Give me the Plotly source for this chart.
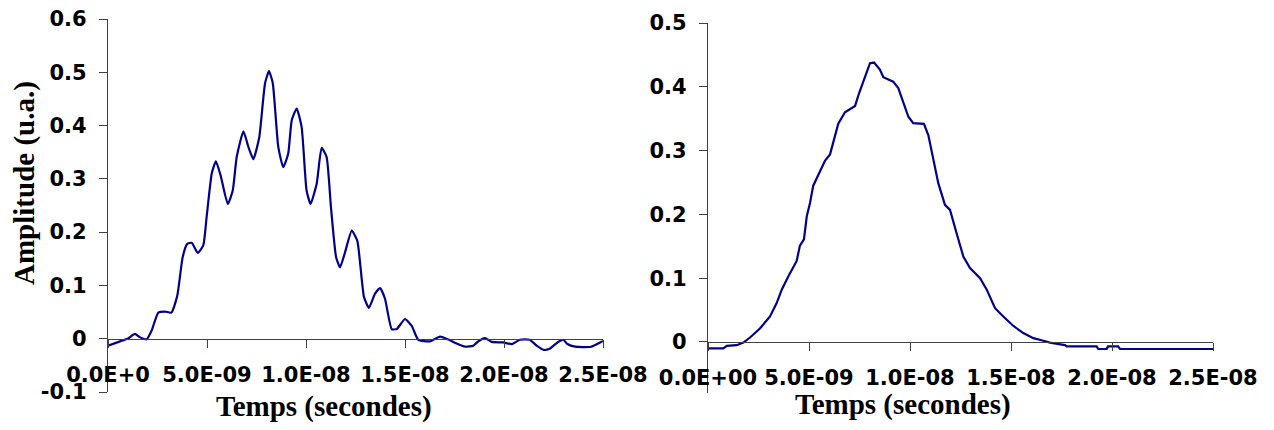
import plotly.graph_objects as go

# ---- data (time in ns, amplitude in u.a.) ----
left_t_ns = [0.0, 0.61, 1.03, 1.36, 1.6, 1.95, 2.2, 2.54, 2.88, 3.2, 3.5, 3.77, 4.0, 4.23, 4.53, 4.81,
             4.98, 5.24, 5.45, 5.69, 6.05, 6.3, 6.5, 6.84, 7.09, 7.34, 7.64, 7.93, 8.13, 8.32, 8.6, 8.85,
             9.1, 9.28, 9.53, 9.78, 10.03, 10.23, 10.54, 10.79, 11.04, 11.26, 11.52, 11.72, 11.97, 12.31,
             12.59, 12.93, 13.18, 13.48, 13.74, 13.99, 14.33, 14.58, 15.0, 15.34, 15.67, 16.26, 16.77,
             17.27, 17.6, 18.03, 18.45, 18.7, 19.04, 19.38, 19.96, 20.4, 20.8, 21.3, 21.65, 22.0, 22.3,
             22.7, 23.0, 23.2, 23.6, 24.4, 24.9, 25.0]
left_amp = [-0.013, -0.005, 0.001, 0.009, 0.003, -0.001, 0.015, 0.049, 0.051, 0.049, 0.081, 0.153, 0.178,
            0.180, 0.161, 0.175, 0.228, 0.31, 0.333, 0.306, 0.253, 0.278, 0.341, 0.389, 0.36, 0.337, 0.378,
            0.479, 0.502, 0.48, 0.36, 0.322, 0.347, 0.41, 0.432, 0.397, 0.278, 0.253, 0.291, 0.358, 0.341,
            0.247, 0.153, 0.134, 0.162, 0.203, 0.184, 0.078, 0.058, 0.084, 0.095, 0.075, 0.018, 0.018, 0.037,
            0.024, -0.002, -0.005, 0.004, -0.003, -0.009, -0.015, -0.013, -0.005, 0.001, -0.006, -0.007,
            -0.01, -0.002, -0.002, -0.013, -0.021, -0.019, -0.007, -0.002, -0.01, -0.015, -0.015, -0.006,
            -0.004]

right_t_ns = [0.0, 0.76, 0.93, 1.42, 1.75, 2.08, 2.57, 3.07, 3.4, 3.65, 3.98, 4.39, 4.55, 4.75, 4.89, 5.05,
              5.21, 5.46, 5.79, 6.04, 6.29, 6.45, 6.78, 7.28, 7.49, 7.72, 8.02, 8.22, 8.51, 8.68, 9.17, 9.42,
              9.67, 9.92, 10.16, 10.69, 10.91, 11.16, 11.4, 11.73, 11.98, 12.31, 12.64, 12.97, 13.47, 13.8,
              14.21, 14.62, 15.12, 15.61, 16.11, 16.6, 16.93, 17.67, 17.76, 19.24, 19.32, 19.74, 19.8, 20.3,
              20.4, 25.0]
right_amp = [-0.01, -0.01, -0.006, -0.005, -0.001, 0.007, 0.021, 0.04, 0.061, 0.082, 0.103, 0.127, 0.151,
             0.161, 0.197, 0.218, 0.245, 0.263, 0.284, 0.294, 0.321, 0.342, 0.36, 0.37, 0.391, 0.412, 0.437,
             0.438, 0.427, 0.415, 0.408, 0.398, 0.374, 0.353, 0.343, 0.342, 0.324, 0.285, 0.249, 0.215, 0.207,
             0.17, 0.134, 0.116, 0.1, 0.082, 0.053, 0.04, 0.025, 0.014, 0.006, 0.002, -0.001, -0.005, -0.007,
             -0.007, -0.011, -0.011, -0.007, -0.007, -0.011, -0.011]

x_tick_vals_ns = [0, 5, 10, 15, 20, 25]
left_x_ticktext = ["0.0E+0", "5.0E-09", "1.0E-08", "1.5E-08", "2.0E-08", "2.5E-08"]
right_x_ticktext = ["0.0E+00", "5.0E-09", "1.0E-08", "1.5E-08", "2.0E-08", "2.5E-08"]
left_y_ticks = [-0.1, 0, 0.1, 0.2, 0.3, 0.4, 0.5, 0.6]
left_y_ticktext = ["-0.1", "0", "0.1", "0.2", "0.3", "0.4", "0.5", "0.6"]
right_y_ticks = [0, 0.1, 0.2, 0.3, 0.4, 0.5]
right_y_ticktext = ["0", "0.1", "0.2", "0.3", "0.4", "0.5"]
x_title = "Temps (secondes)"
y_title = "Amplitude (u.a.)"

# ---- figure ----
W, H = 1274, 430
OFF = 8  # page body margin offset
NAVY = "#00008B"
AXC = "#404040"
tick_font = dict(family="DejaVu Sans", size=21, color="black", weight="bold")
title_font = dict(family="Liberation Serif", size=29, color="black", weight="bold")

def s(ns_list):
    return [v * 1e-9 for v in ns_list]

fig = go.Figure()
fig.add_trace(go.Scatter(x=s(left_t_ns), y=left_amp, mode="lines", xaxis="x", yaxis="y",
                         line=dict(color=NAVY, width=2.2, shape="spline", smoothing=0.5),
                         showlegend=False))
fig.add_trace(go.Scatter(x=s(right_t_ns), y=right_amp, mode="lines", xaxis="x2", yaxis="y2",
                         line=dict(color=NAVY, width=2.2), showlegend=False))

def px_x(p):
    return (p - OFF) / W

def px_y(p):
    return 1 - (p - OFF) / H

# plot geometry (pixels in the final picture)
L_x0, L_x1, L_yt, L_yb = 108, 603, 19, 392
R_x0, R_x1, R_yt, R_yb = 708, 1213, 23, 393
L_ymin, L_ymax = -0.1, 0.6
R_ymin, R_ymax = -0.08, 0.5

L_zero_px = L_yt + (L_ymax - 0) / (L_ymax - L_ymin) * (L_yb - L_yt)
R_zero_px = R_yt + (R_ymax - 0) / (R_ymax - R_ymin) * (R_yb - R_yt)

common_x = dict(range=[0, 2.5e-8], showgrid=False, zeroline=False, showline=True, linecolor=AXC,
                linewidth=1.3, ticks="outside", ticklen=8, tickcolor=AXC, tickwidth=1.3,
                tickfont=tick_font, anchor="free", ticklabelstandoff=9, automargin=False,
                ticklabeloverflow="allow")
common_y = dict(showgrid=False, zeroline=False, showline=True, linecolor=AXC, linewidth=1.3,
                ticks="outside", ticklen=8, tickcolor=AXC, tickwidth=1.3, tickfont=tick_font,
                ticklabelstandoff=8, automargin=False, ticklabeloverflow="allow")

fig.update_layout(
    width=W, height=H, margin=dict(l=0, r=0, t=0, b=0, autoexpand=False),
    plot_bgcolor="white", paper_bgcolor="white",
    xaxis=dict(**common_x, domain=[px_x(L_x0), px_x(L_x1)], position=px_y(L_zero_px),
               tickvals=s(x_tick_vals_ns), ticktext=left_x_ticktext),
    yaxis=dict(**common_y, domain=[px_y(L_yb), px_y(L_yt)], range=[L_ymin, L_ymax], anchor="x",
               tickvals=left_y_ticks, ticktext=left_y_ticktext),
    xaxis2=dict(**common_x, domain=[px_x(R_x0), px_x(R_x1)], position=px_y(R_zero_px),
                tickvals=s(x_tick_vals_ns), ticktext=right_x_ticktext),
    yaxis2=dict(**common_y, domain=[px_y(R_yb), px_y(R_yt)], range=[R_ymin, R_ymax], anchor="x2",
                tickvals=right_y_ticks, ticktext=right_y_ticktext),
    annotations=[
        dict(text=x_title, xref="paper", yref="paper", x=px_x(324), y=px_y(406), showarrow=False,
             xanchor="center", yanchor="middle", font=title_font),
        dict(text=x_title, xref="paper", yref="paper", x=px_x(903), y=px_y(404), showarrow=False,
             xanchor="center", yanchor="middle", font=title_font),
        dict(text=y_title, xref="paper", yref="paper", x=px_x(24), y=px_y(183), showarrow=False,
             xanchor="center", yanchor="middle", textangle=-90, font=title_font),
    ],
)

fig.write_html("out.html")
